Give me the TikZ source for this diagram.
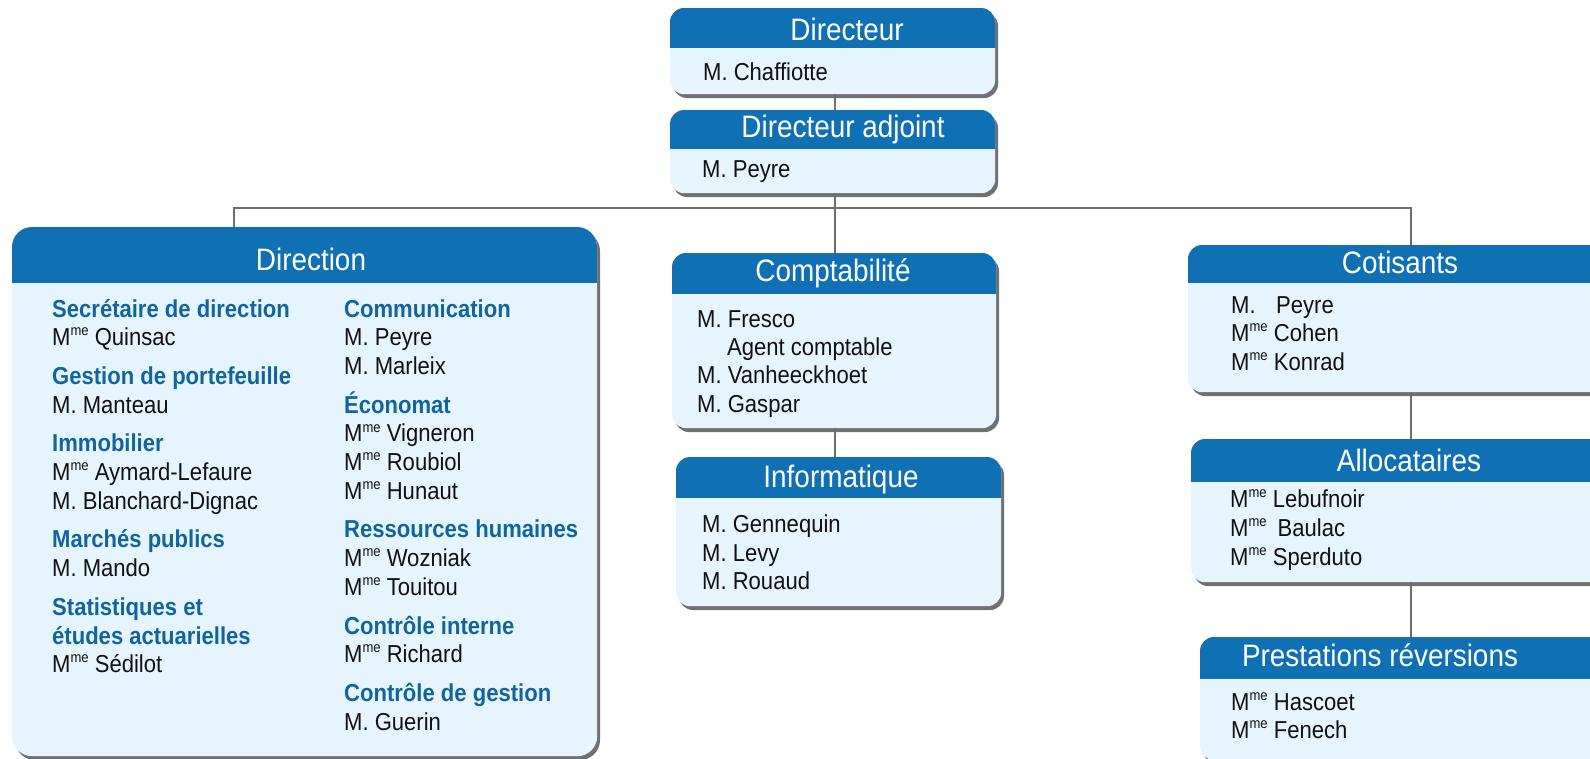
\documentclass[tikz,border=0pt]{standalone}
\usepackage{fontspec}
\setmainfont{Liberation Sans}[FakeStretch=0.9]
\newfontfamily\hfont{Liberation Sans}[FakeStretch=0.9]
\definecolor{headc}{HTML}{1070B4}
\definecolor{bodyc}{HTML}{E6F4FD}
\definecolor{sectc}{HTML}{11659F}
\definecolor{namec}{HTML}{111111}
\definecolor{shadc}{HTML}{707070}
\definecolor{connc}{HTML}{6E6E6E}
\newcommand\Mme{M\raisebox{9.8pt}{\fontsize{14.5}{14.5}\selectfont me}}
% name, x1, y1, x2, y2, header bottom, radius
\newcommand\orgbox[7]{%
  \fill[shadc, rounded corners=#7] (#2+3,#3+4) rectangle (#4+3,#5+4);
  \node[boxnode, rounded corners=#7, minimum width={(#4-#2)*1pt}, minimum height={(#5-#3)*1pt}, anchor=north west] (#1) at (#2,#3) {};
  \begin{scope}
    \clip (#2-2,#3-2) rectangle (#4+2,#6);
    \fill[headc, rounded corners=#7] (#2,#3) rectangle (#4,#5);
  \end{scope}
}
\begin{document}
\begin{tikzpicture}[x=1pt,y=-1pt,
  pers/.style={font=\fontsize{24.5}{28}\selectfont, text=namec, inner sep=0, anchor=base west},
  secttext/.style={font=\bfseries\fontsize{24.5}{28}\selectfont, text=sectc, inner sep=0, anchor=base west},
  hdtext/.style={font=\hfont\fontsize{31}{31}\selectfont, text=white, inner sep=0, anchor=base},
  conn/.style={draw=connc, line width=2pt},
  boxnode/.style={fill=bodyc, inner sep=0, draw=none}]
\useasboundingbox[fill=white] (0,0) rectangle (1590,758);

% boxes
\orgbox{dir}{670}{8}{995}{94}{47}{14}
\orgbox{adj}{670}{110}{995}{193}{148}{14}
\orgbox{direc}{12}{227}{597}{756}{282}{20}
\orgbox{comp}{672}{253}{996}{428}{293}{14}
\orgbox{info}{676}{457}{1001}{606}{497}{14}
\orgbox{cot}{1188}{245}{1610}{392}{282}{14}
\orgbox{alloc}{1191}{439}{1610}{582}{481}{14}
\orgbox{prest}{1200}{637}{1610}{760}{678}{14}

% connectors
\coordinate (J) at (835,208);
\coordinate (L) at (234,208);
\coordinate (R) at (1411,208);
\draw[conn] (dir.south -| J) -- (adj.north -| J);
\draw[conn] (adj.south -| J) -- (comp.north -| J);
\draw[conn] (direc.north -| L) -- (L) -- (R) -- (cot.north -| R);
\draw[conn] (comp.south -| J) -- (info.north -| J);
\draw[conn] (cot.south -| R) -- (alloc.north -| R);
\draw[conn] (alloc.south -| R) -- (prest.north -| R);

% headers
\node[hdtext] (tdir) at (847,40.5) {Directeur};
\node[hdtext] (tadj) at (843,137) {Directeur adjoint};
\node[hdtext] (tdirec) at (311,270.5) {Direction};
\node[hdtext] (tcomp) at (833,281) {Comptabilité};
\node[hdtext] (tinfo) at (841,487) {Informatique};
\node[hdtext] (tcot) at (1400,273) {Cotisants};
\node[hdtext] (talloc) at (1409,471) {Allocataires};
\node[hdtext] (tprest) at (1380,666) {Prestations réversions};

% Directeur / adjoint
\node[pers] (p1) at (703,80) {M. Chaffiotte};
\node[pers] (p2) at (702,177) {M. Peyre};

% Direction, left column
\node[secttext] (l1) at (52,317) {Secrétaire de direction};
\node[pers] (l2) at (52,345.7) {\Mme{} Quinsac};
\node[secttext] (l3) at (52,384.4) {Gestion de portefeuille};
\node[pers] (l4) at (52,413.1) {M. Manteau};
\node[secttext] (l5) at (52,451.8) {Immobilier};
\node[pers] (l6) at (52,480.5) {\Mme{} Aymard-Lefaure};
\node[pers] (l7) at (52,509.2) {M. Blanchard-Dignac};
\node[secttext] (l8) at (52,547.9) {Marchés publics};
\node[pers] (l9) at (52,576.6) {M. Mando};
\node[secttext] (l10) at (52,615.3) {Statistiques et};
\node[secttext] (l11) at (52,644) {études actuarielles};
\node[pers] (l12) at (52,672.7) {\Mme{} Sédilot};

% Direction, right column
\node[secttext] (r1) at (344,317) {Communication};
\node[pers] (r2) at (344,345.7) {M. Peyre};
\node[pers] (r3) at (344,374.4) {M. Marleix};
\node[secttext] (r4) at (344,413.1) {Économat};
\node[pers] (r5) at (344,441.8) {\Mme{} Vigneron};
\node[pers] (r6) at (344,470.5) {\Mme{} Roubiol};
\node[pers] (r7) at (344,499.2) {\Mme{} Hunaut};
\node[secttext] (r8) at (344,537.9) {Ressources humaines};
\node[pers] (r9) at (344,566.6) {\Mme{} Wozniak};
\node[pers] (r10) at (344,595.3) {\Mme{} Touitou};
\node[secttext] (r11) at (344,634) {Contrôle interne};
\node[pers] (r12) at (344,662.7) {\Mme{} Richard};
\node[secttext] (r13) at (344,701.4) {Contrôle de gestion};
\node[pers] (r14) at (344,730.1) {M. Guerin};

% Comptabilite
\node[pers] (c1) at (697,327) {M. Fresco};
\node[pers] (c2) at (727,355) {Agent comptable};
\node[pers] (c3) at (697,383.5) {M. Vanheeckhoet};
\node[pers] (c4) at (697,412) {M. Gaspar};

% Informatique
\node[pers] (i1) at (702,532) {M. Gennequin};
\node[pers] (i2) at (702,561) {M. Levy};
\node[pers] (i3) at (702,589) {M. Rouaud};

% Cotisants
\node[pers] (k1) at (1231,313) {M.};
\node[pers] (k1b) at (1276,313) {Peyre};
\node[pers] (k2) at (1231,341.7) {\Mme{} Cohen};
\node[pers] (k3) at (1231,370) {\Mme{} Konrad};

% Allocataires
\node[pers] (a1) at (1230,507) {\Mme{} Lebufnoir};
\node[pers] (a2) at (1230,536) {\Mme{}\hspace{0.45em}Baulac};
\node[pers] (a3) at (1230,565) {\Mme{} Sperduto};

% Prestations
\node[pers] (s1) at (1231,710) {\Mme{} Hascoet};
\node[pers] (s2) at (1231,738) {\Mme{} Fenech};
\end{tikzpicture}
\end{document}
